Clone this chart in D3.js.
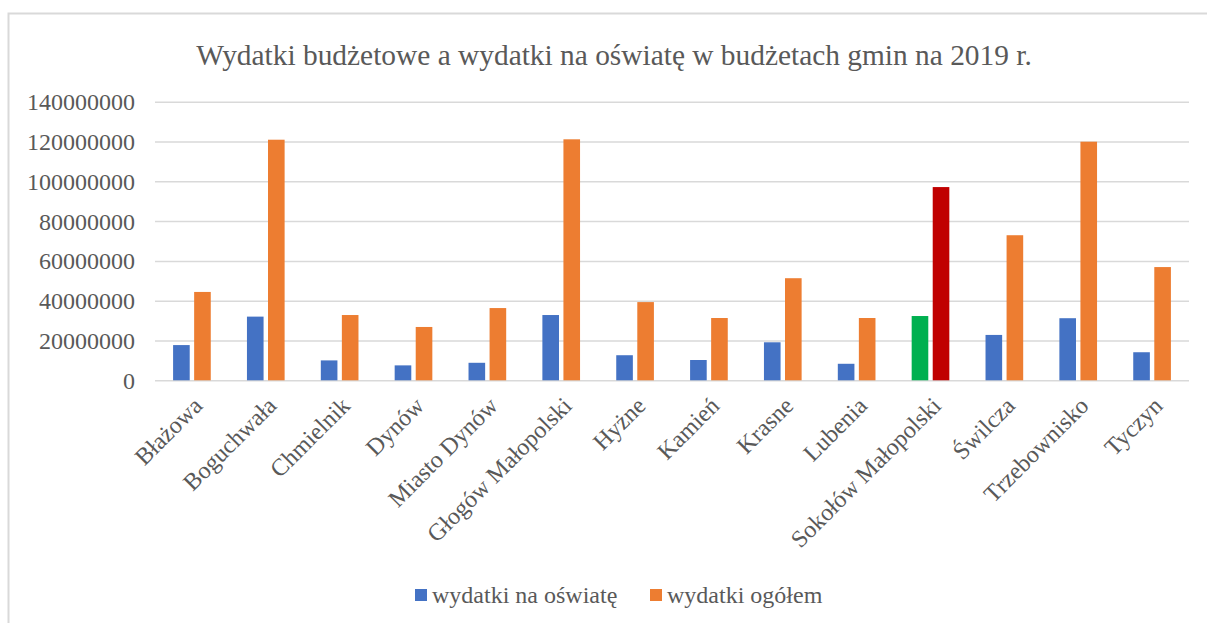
<!DOCTYPE html>
<html><head><meta charset="utf-8">
<script src="https://cdn.jsdelivr.net/npm/d3@7"></script>
<style>body{margin:0;background:#fff}svg{display:block}text{font-family:"Liberation Serif","Times New Roman",serif;fill:#595959}</style>
</head><body><svg id="c" width="1207" height="623"></svg>
<script>
const categories = ["Błażowa","Boguchwała","Chmielnik","Dynów","Miasto Dynów","Głogów Małopolski","Hyżne","Kamień","Krasne","Lubenia","Sokołów Małopolski","Świlcza","Trzebownisko","Tyczyn"];
const education = [17700000,32000000,10000000,7500000,8800000,32800000,12600000,10200000,19100000,8300000,32300000,22800000,31200000,14100000];
const total = [44400000,120900000,32800000,26800000,36300000,121100000,39300000,31300000,51300000,31300000,97100000,72900000,119900000,56900000];
const seriesNames = ["wydatki na oświatę","wydatki ogółem"];
const seriesColors = ["#4472C4","#ED7D31"];
const highlightCategory = "Sokołów Małopolski";
const highlightColors = ["#00B050","#C00000"];
const yTicks = [0,20000000,40000000,60000000,80000000,100000000,120000000,140000000];
const title = "Wydatki budżetowe a wydatki na oświatę w budżetach gmin na 2019 r.";

const svg = d3.select("#c");
svg.append("rect").attr("x",8.5).attr("y",13.5).attr("width",1400).attr("height",800)
  .attr("fill","none").attr("stroke","#d9d9d9").attr("stroke-width",2);

const L=155,R=1189,T=101.7,B=380.3;
const x = d3.scaleBand().domain(categories).range([L,R]);
const y = d3.scaleLinear().domain([0,140000000]).range([B,T]);

svg.append("text").attr("x",614).attr("y",65).attr("text-anchor","middle")
  .style("font-size","29.4px").text(title);

const gy = svg.append("g").attr("transform",`translate(${L},0)`)
  .call(d3.axisLeft(y).tickValues(yTicks).tickSize(-(R-L)).tickPadding(20).tickFormat(d3.format("d")));
gy.select(".domain").remove();
gy.selectAll(".tick line").attr("stroke","#d9d9d9").attr("stroke-width",1.5);
gy.selectAll(".tick text").style("font-size","24px").attr("fill","#595959").attr("dy","0.33em");

const bw = x.bandwidth()*0.225, gap = x.bandwidth()*0.06;
const data = categories.map((c,i)=>({c, v:[education[i], total[i]]}));
const g = svg.append("g");
data.forEach(d=>{
  const cx = x(d.c)+x.bandwidth()/2;
  d.v.forEach((v,j)=>{
    const col = d.c===highlightCategory ? highlightColors[j] : seriesColors[j];
    const bx = j===0 ? cx-gap/2-bw : cx+gap/2;
    g.append("rect").attr("x",bx).attr("y",y(v)).attr("width",bw).attr("height",B-y(v)).attr("fill",col);
  });
});

const gx = svg.append("g");
categories.forEach(c=>{
  const cx = x(c)+x.bandwidth()/2;
  gx.append("text").attr("transform",`translate(${cx},${B+15}) rotate(-45)`)
    .attr("text-anchor","end").attr("dy","0.7em").style("font-size","24px").text(c);
});

const leg = svg.append("g");
const legX=[415,650];
seriesNames.forEach((n,i)=>{
  leg.append("rect").attr("x",legX[i]).attr("y",589).attr("width",12).attr("height",12).attr("fill",seriesColors[i]);
  leg.append("text").attr("x",legX[i]+17).attr("y",603).style("font-size","24px").text(n);
});
</script></body></html>
